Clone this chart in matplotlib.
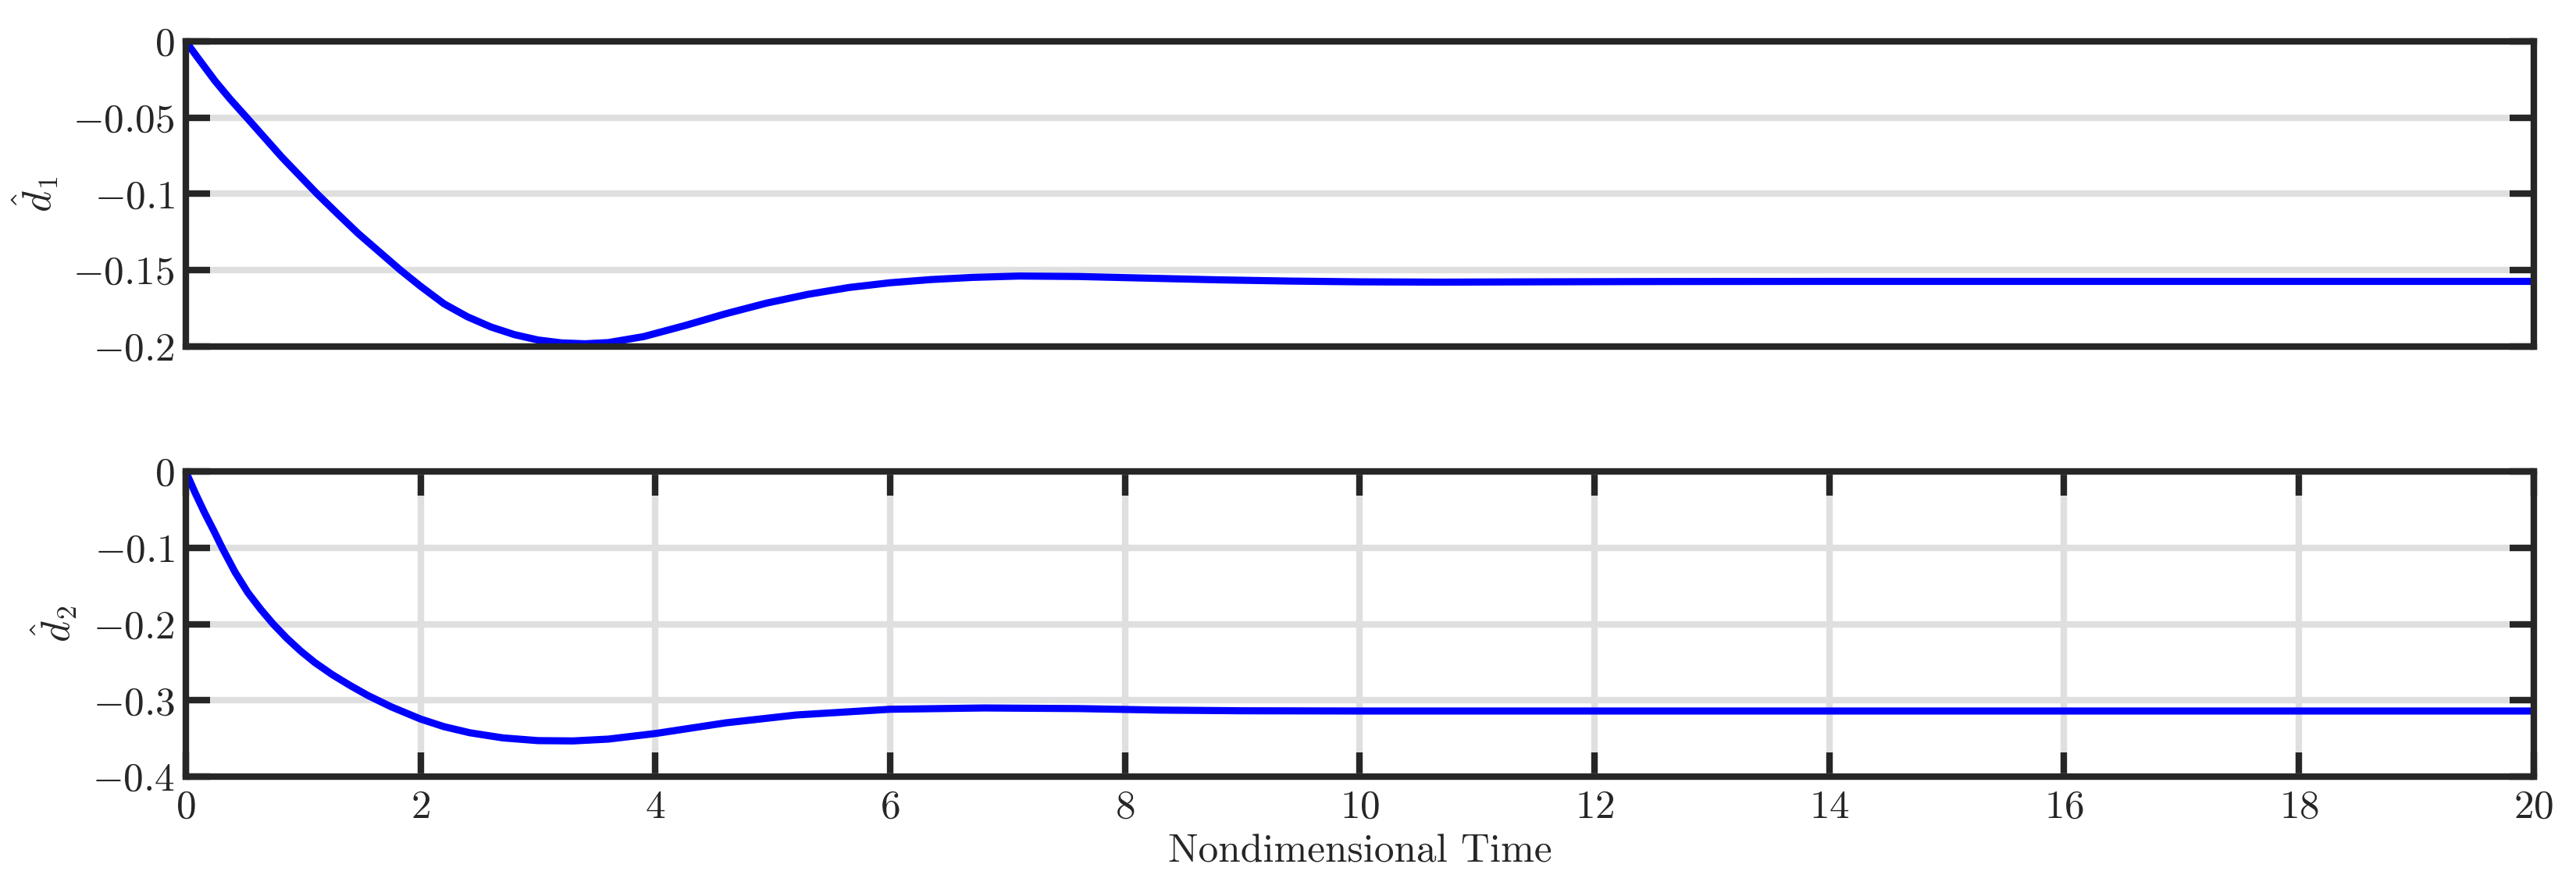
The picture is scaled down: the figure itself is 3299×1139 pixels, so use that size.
import numpy as np
import matplotlib
matplotlib.use("Agg")
import matplotlib.pyplot as plt

# values
t1 = [0, 0.1, 0.25, 0.38, 0.52, 0.67, 0.82, 0.97, 1.12, 1.3, 1.47, 1.65, 1.83,
      2.0, 2.2, 2.4, 2.6, 2.8, 3.0, 3.2, 3.4, 3.6, 3.9, 4.25, 4.6, 4.95, 5.3,
      5.65, 6.0, 6.35, 6.7, 7.1, 7.6, 8.2, 8.8, 9.4, 10.0, 10.7, 11.5, 12.5,
      14, 16, 18, 20]
d1 = [0, -0.0105, -0.026, -0.038, -0.05, -0.063, -0.076, -0.088, -0.1,
      -0.1135, -0.126, -0.138, -0.15, -0.1605, -0.172, -0.1805, -0.1872,
      -0.1922, -0.1957, -0.1976, -0.1982, -0.1974, -0.1935, -0.1863, -0.1785,
      -0.1715, -0.1658, -0.1613, -0.1582, -0.1561, -0.1547, -0.1538, -0.1541,
      -0.1552, -0.1563, -0.1571, -0.1576, -0.1578, -0.1576, -0.1574, -0.1573,
      -0.1573, -0.1573, -0.1573]

t2 = [0, 0.08, 0.16, 0.24, 0.31, 0.42, 0.53, 0.64, 0.745, 0.86, 0.98, 1.1,
      1.25, 1.4, 1.55, 1.75, 2.0, 2.2, 2.42, 2.7, 3.0, 3.3, 3.6, 4.0, 4.6,
      5.2, 6.0, 6.8, 7.6, 8.3, 9.0, 10, 12, 14, 16, 18, 20]
d2 = [0, -0.028, -0.054, -0.078, -0.1, -0.132, -0.159, -0.181, -0.2, -0.2185,
      -0.2355, -0.2505, -0.2665, -0.2805, -0.2935, -0.3085, -0.3245, -0.3345,
      -0.3425, -0.3492, -0.3528, -0.3532, -0.3508, -0.3435, -0.3295, -0.3192,
      -0.3117, -0.3100, -0.3108, -0.3128, -0.3137, -0.314, -0.314, -0.314,
      -0.314, -0.314, -0.314]

xticks = list(range(0, 21, 2))
yticks_top = [0, -0.05, -0.1, -0.15, -0.2]
yticks_bot = [0, -0.1, -0.2, -0.3, -0.4]

plt.rcParams["font.family"] = "serif"
plt.rcParams["font.serif"] = ["cmr10"]
plt.rcParams["mathtext.fontset"] = "cm"
plt.rcParams["axes.unicode_minus"] = True

DARK = "#262626"
GRID = "#dfdfdf"
FS = 18.5


def fmt(v):
    return r"$%g$" % v


def style(ax, yticks, xgrid):
    for s in ax.spines.values():
        s.set_linewidth(3)
        s.set_color(DARK)
    ax.set_axisbelow(True)
    ax.set_yticks(yticks)
    ax.set_yticklabels([fmt(v) for v in yticks])
    ax.tick_params(axis="y", direction="in", length=11, width=3, color=DARK,
                   left=True, right=True, labelsize=FS, labelcolor=DARK, pad=5)
    ax.grid(True, axis="y", color=GRID, linewidth=3)
    if xgrid:
        ax.set_xticks(xticks)
        ax.set_xticklabels([fmt(v) for v in xticks])
        ax.tick_params(axis="x", direction="in", length=11, width=3, color=DARK,
                       bottom=True, top=True, labelsize=FS, labelcolor=DARK, pad=6)
        ax.grid(True, axis="x", color=GRID, linewidth=3)
    else:
        ax.set_xticks([])
    ax.set_xlim(0, 20)


fig = plt.figure(figsize=(3299 / 200, 1139 / 200), dpi=200)
ax1 = fig.add_axes([0.0721, 0.6102, 0.9115, 0.3433])
ax2 = fig.add_axes([0.0721, 0.1264, 0.9115, 0.3433])

ax1.plot(t1, d1, color="#0000ff", linewidth=3.3, solid_joinstyle="round")
style(ax1, yticks_top, False)
ax1.set_ylim(-0.2, 0)
ax1.set_ylabel(r"$\hat{d}_1$", fontsize=FS, color=DARK, labelpad=6)

ax2.plot(t2, d2, color="#0000ff", linewidth=3.3, solid_joinstyle="round")
style(ax2, yticks_bot, True)
ax2.set_ylim(-0.4, 0)
ax2.set_ylabel(r"$\hat{d}_2$", fontsize=FS, color=DARK, labelpad=6)
ax2.set_xlabel("Nondimensional Time", fontsize=FS, color=DARK, labelpad=4)

fig.savefig("out.png", dpi=200, facecolor="white")
